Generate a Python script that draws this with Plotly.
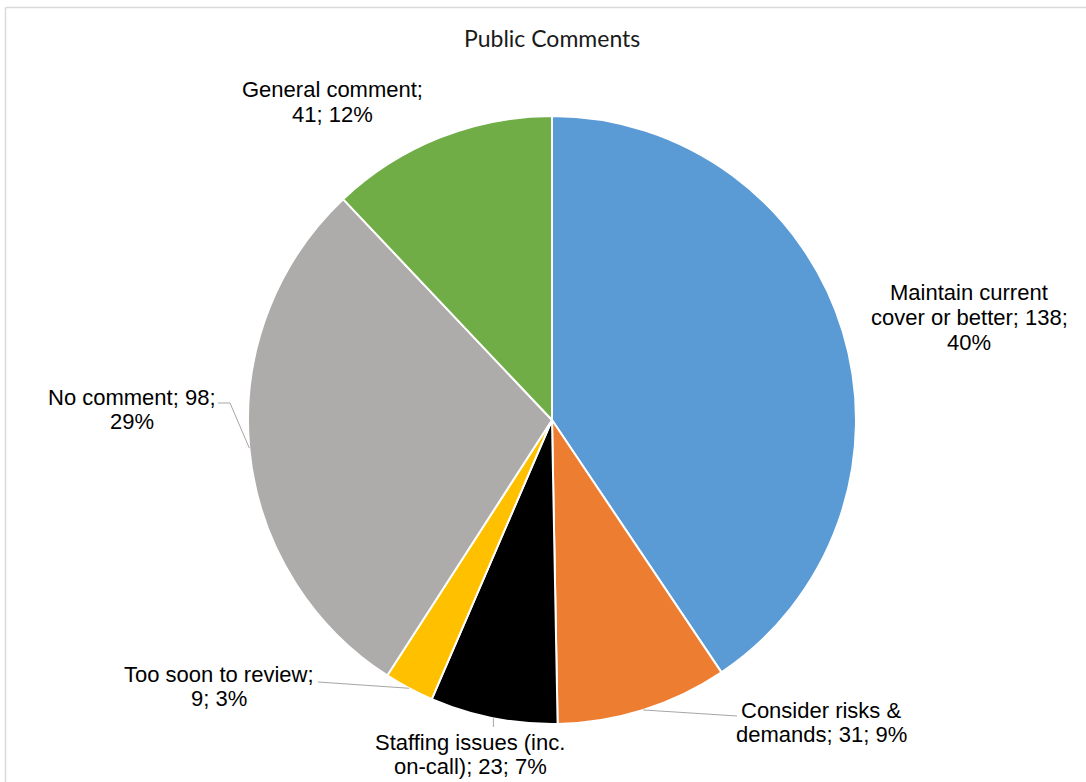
import numpy as np
import plotly.graph_objects as go

# ---- data ----
categories = [
    "Maintain current cover or better",
    "Consider risks & demands",
    "Staffing issues (inc. on-call)",
    "Too soon to review",
    "No comment",
    "General comment",
]
counts = [138, 31, 23, 9, 98, 41]
slice_colors = ["#5B9BD5", "#ED7D31", "#000000", "#FFC000", "#AEABAB", "#70AD47"]
chart_title = "Public Comments"

# ---- canvas geometry (pixels) ----
W, H = 1086, 782
CX, CY, R = 552, 420, 304


def to_paper(x, y):
    return x / W, 1 - y / H


def largest_remainder(vals):
    """Whole-number percentages that add up to 100."""
    v = np.asarray(vals, dtype=float)
    raw = v / v.sum() * 100
    base = np.floor(raw).astype(int)
    short = 100 - base.sum()
    order = np.argsort(-(raw - base))
    base[order[:short]] += 1
    return base


pcts = largest_remainder(counts)

# slice mid-angles (clockwise from 12 o'clock) and their rim points
fr = np.asarray(counts, float) / sum(counts)
mid = (np.cumsum(fr) - fr / 2) * 2 * np.pi
rim_x = CX + R * np.sin(mid)
rim_y = CY - R * np.cos(mid)

# label placement: centre x, first-line y, words on each line break, line anchor
label_layout = [
    dict(cx=969, y0=293, breaks=[2, 6], anchor=None),
    dict(cx=821, y0=710, breaks=[3], anchor=[(737, 716)]),
    dict(cx=470, y0=742, breaks=[3], anchor="down"),
    dict(cx=219, y0=674, breaks=[4], anchor=[(318, 682)]),
    dict(cx=132, y0=397, breaks=[3], anchor=[(230, 403), (218, 403)]),
    dict(cx=332, y0=90, breaks=[2], anchor=None),
]
LINE_GAP = 24.5

fig = go.Figure(
    go.Pie(
        labels=categories,
        values=counts,
        sort=False,
        direction="clockwise",
        rotation=0,
        marker=dict(colors=slice_colors, line=dict(color="white", width=2)),
        textinfo="none",
        hoverinfo="label+value+percent",
        showlegend=False,
        domain=dict(
            x=[(CX - R) / W, (CX + R) / W],
            y=[1 - (CY + R) / H, 1 - (CY - R) / H],
        ),
    )
)

annotations = []
shapes = []
label_font = dict(family="Liberation Sans, Arial, sans-serif", size=22, color="#000000")

for i, (name, n, p) in enumerate(zip(categories, counts, pcts)):
    spec = label_layout[i]
    words = f"{name}; {n}; {p}%".split(" ")
    cuts = [0] + spec["breaks"] + [len(words)]
    lines = [" ".join(words[a:b]) for a, b in zip(cuts[:-1], cuts[1:])]
    for k, line in enumerate(lines):
        x, y = to_paper(spec["cx"], spec["y0"] + k * LINE_GAP)
        annotations.append(dict(
            x=x, y=y, xref="paper", yref="paper", text=line, showarrow=False,
            xanchor="center", yanchor="middle", font=label_font,
        ))

    # leader line from the slice rim to its label
    anchor = spec["anchor"]
    if anchor is None:
        continue
    if anchor == "down":
        pts = [(rim_x[i], rim_y[i]), (rim_x[i], 727)]
    else:
        pts = [(rim_x[i], rim_y[i])] + list(anchor)
    path = "M " + " L ".join(f"{to_paper(px, py)[0]:.5f},{to_paper(px, py)[1]:.5f}" for px, py in pts)
    shapes.append(dict(type="path", xref="paper", yref="paper", path=path,
                       line=dict(color="#A6A6A6", width=1)))

# title
tx, ty = to_paper(552, 38)
annotations.append(dict(
    x=tx, y=ty, xref="paper", yref="paper", text=chart_title, showarrow=False,
    xanchor="center", yanchor="middle",
    font=dict(family="Lato, Open Sans, sans-serif", size=23, color="#1A1A1A"),
))

# outer chart frame
fx0, fy0 = to_paper(5.5, 7.5)
shapes.append(dict(type="line", xref="paper", yref="paper", x0=fx0, y0=fy0, x1=fx0, y1=-0.02,
                   line=dict(color="#D9D9D9", width=1.5)))
shapes.append(dict(type="line", xref="paper", yref="paper", x0=fx0, y0=fy0, x1=1.02, y1=fy0,
                   line=dict(color="#D9D9D9", width=1.5)))

fig.update_layout(
    width=W, height=H,
    margin=dict(l=0, r=0, t=0, b=0),
    paper_bgcolor="white", plot_bgcolor="white",
    annotations=annotations, shapes=shapes,
)

fig.write_html("out.html")
